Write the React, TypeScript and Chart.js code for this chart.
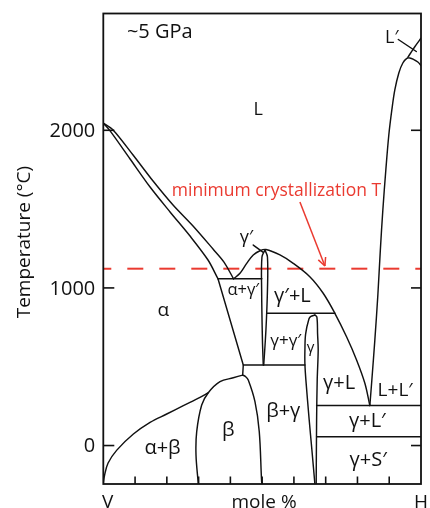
import React, { useEffect, useRef } from 'react';
import { Chart, registerables } from 'chart.js';

Chart.register(...registerables);

// ---------- axis data ----------
const xMin = 0;
const xMax = 100;
const yMin = -244;
const yMax = 2741;
const yTickValues = [0, 1000, 2000];
const yTickLabels = ['0', '1000', '2000'];
const xMinorTicks = [10, 20, 30, 40, 50, 60, 70, 80, 90];
const xAxisLabels = ['V', 'mole %', 'H'];
const xAxisLabelPos = [1.4, 50.6, 100];
const yAxisTitle = 'Temperature (°C)';
const yAxisTitleAt = 1291;

// ---------- phase boundaries (mole % H, °C) ----------
const liquidusV: [number, number][] = [
  [0, 2046], [3.08, 2002], [9.37, 1843], [15.66, 1678], [21.95, 1526],
  [28.24, 1393], [34.53, 1247], [37.99, 1164], [41.0, 1058],
];
const solidusAlpha: [number, number][] = [
  [0, 2045], [2.14, 1996], [8.43, 1818], [14.72, 1640], [21.01, 1482],
  [27.3, 1329], [32.96, 1177], [36.1, 1058],
];
const liquidusGammaPrime: [number, number][] = [
  [41.0, 1058], [43.02, 1093], [45.13, 1156], [47.2, 1209], [49.31, 1236],
  [51.19, 1244], [55.6, 1209], [59.78, 1156], [65.0, 1071], [69.21, 966],
  [72.89, 839], [76.57, 690], [79.72, 543], [82.33, 395], [83.9, 254],
];
const liquidusH: [number, number][] = [
  [83.9, 254], [84.53, 416], [85.47, 669], [86.42, 955], [87.2, 1240],
  [87.99, 1494], [88.93, 1748], [89.87, 1970], [90.82, 2129], [91.76, 2256],
  [93.02, 2364], [94.28, 2427], [95.53, 2456], [96.48, 2459], [97.74, 2449],
  [99.0, 2433], [100, 2411],
];
const lPrimeUpper: [number, number][] = [[95.85, 2463], [98.05, 2530], [100, 2584]];
const lPrimeLeader: [number, number][] = [[92.86, 2576], [98.52, 2500]];
const gammaPrimeLeader: [number, number][] = [[47.2, 1272], [50.35, 1226]];
const alphaGammaPrimeTop: [number, number][] = [[36.1, 1058], [49.9, 1058]];
const gammaPrimeLeft: [number, number][] = [
  [50.88, 1240], [49.94, 1196], [49.84, 987], [50.09, 669], [50.35, 511],
];
const gammaPrimeRight: [number, number][] = [
  [50.88, 1240], [51.67, 1196], [51.67, 987], [51.19, 733], [50.5, 511],
];
const alphaBoundary: [number, number][] = [[36.1, 1058], [44.06, 511], [43.87, 447]];
const eutectoidLine: [number, number][] = [[44.06, 511], [63.46, 511]];
const gammaPrimeLTop: [number, number][] = [[51.42, 839], [72.89, 839]];
const betaLeft: [number, number][] = [
  [43.87, 447], [40.91, 430], [36.73, 405], [33.05, 335], [30.97, 257],
  [29.4, 88], [29.18, -60], [29.91, -244],
];
const betaRight: [number, number][] = [
  [43.87, 447], [44.75, 438], [45.63, 416], [47.74, 278], [49.09, 88],
  [49.84, -230], [50.03, -244],
];
const alphaBetaTop: [number, number][] = [
  [0, -244], [0.41, -187], [1.51, -111], [4.25, -29], [9.47, 73],
  [14.72, 147], [19.97, 200], [25.19, 253], [30.44, 306], [33.05, 335],
];
const gammaLeft: [number, number][] = [
  [66.6, 828], [65.35, 819], [64.72, 803], [63.68, 707], [63.46, 606],
  [63.46, 517], [63.77, 415], [64.81, 162], [65.66, -28], [66.6, -244],
];
const gammaRight: [number, number][] = [
  [66.6, 828], [67.23, 815], [67.45, 707], [67.64, 606], [67.33, 415],
  [67.14, 162], [67.01, -244],
];
const lLPrimeLine: [number, number][] = [[67.14, 254], [100, 254]];
const gammaLPrimeLine: [number, number][] = [[67.14, 56], [100, 56]];

const minCrystT = 1122;
const arrowFrom: [number, number] = [61.89, 1545];
const arrowTo: [number, number] = [69.75, 1139];

// ---------- region labels ----------
const regionLabels = [
  '~5 GPa', 'L', 'L′', 'α', 'α+β', 'β', 'β+γ', 'γ+γ′', 'γ', 'γ′+L', 'α+γ′', 'γ′',
  'γ+L', 'L+L′', 'γ+L′', 'γ+S′',
];
const regionLabelX = [
  17.77, 48.77, 90.82, 18.9, 18.65, 39.34, 56.64, 57.42, 65.25, 59.53, 44.06, 45.06,
  74.21, 91.86, 83.11, 83.36,
];
const regionLabelY = [
  2584, 2097, 2552, 824, -54, 60, 179, 633, 593, 909, 955, 1285,
  358, 316, 115, -128,
];
const minCrystLabel = 'minimum crystallization T';
const minCrystLabelX = 54.5;
const minCrystLabelY = 1581;

// ---------- styles ----------
const FONT = "'Open Sans', 'DejaVu Sans', sans-serif";
const INK = '#111111';
const RED = '#ea3a30';
const labelSizes = [20, 18, 18, 19, 20, 20, 20, 17, 15, 20, 16.5, 18, 20, 19, 20, 20];

const toXY = (pts: [number, number][]) => pts.map(([x, y]) => ({ x, y }));

function boundary(pts: [number, number][], tension = 0.35) {
  return {
    data: toXY(pts),
    borderColor: INK,
    borderWidth: 1.45,
    pointRadius: 0,
    fill: false,
    tension,
    borderCapStyle: 'round' as const,
    borderJoinStyle: 'round' as const,
  };
}

const overlayPlugin = {
  id: 'phaseOverlay',
  afterDatasetsDraw(chart: any) {
    const { ctx, chartArea: a, scales } = chart;
    const sx = scales.x;
    const sy = scales.y;
    ctx.save();
    const seg = (x1: number, y1: number, x2: number, y2: number) => {
      ctx.beginPath();
      ctx.moveTo(x1, y1);
      ctx.lineTo(x2, y2);
      ctx.stroke();
    };
    // frame
    ctx.strokeStyle = INK;
    ctx.lineWidth = 1.8;
    ctx.strokeRect(a.left, a.top, a.right - a.left, a.bottom - a.top);
    // inward ticks
    ctx.lineWidth = 1.6;
    yTickValues.forEach((v) => {
      const py = sy.getPixelForValue(v);
      seg(a.left, py, a.left + 11, py);
      seg(a.right - 10, py, a.right, py);
    });
    xMinorTicks.forEach((v) => {
      const px = sx.getPixelForValue(v);
      seg(px, a.bottom, px, a.bottom - 7.5);
    });
    // y tick labels
    ctx.fillStyle = INK;
    ctx.textAlign = 'right';
    ctx.textBaseline = 'middle';
    ctx.font = `20px ${FONT}`;
    yTickValues.forEach((v, i) => {
      ctx.fillText(yTickLabels[i], a.left - 8, sy.getPixelForValue(v) + 1);
    });
    // arrow head
    const tx = sx.getPixelForValue(arrowTo[0]);
    const ty = sy.getPixelForValue(arrowTo[1]);
    const fx = sx.getPixelForValue(arrowFrom[0]);
    const fy = sy.getPixelForValue(arrowFrom[1]);
    const ang = Math.atan2(ty - fy, tx - fx);
    ctx.strokeStyle = RED;
    ctx.lineWidth = 1.5;
    const hl = 9;
    const spread = 0.45;
    seg(tx, ty, tx - hl * Math.cos(ang - spread), ty - hl * Math.sin(ang - spread));
    seg(tx, ty, tx - hl * Math.cos(ang + spread), ty - hl * Math.sin(ang + spread));
    // region labels
    ctx.textAlign = 'center';
    ctx.textBaseline = 'alphabetic';
    ctx.fillStyle = INK;
    regionLabels.forEach((t, i) => {
      ctx.font = `${labelSizes[i]}px ${FONT}`;
      ctx.fillText(t, sx.getPixelForValue(regionLabelX[i]), sy.getPixelForValue(regionLabelY[i]));
    });
    ctx.fillStyle = RED;
    ctx.font = `17.5px ${FONT}`;
    ctx.fillText(minCrystLabel, sx.getPixelForValue(minCrystLabelX), sy.getPixelForValue(minCrystLabelY));
    // x axis labels
    ctx.fillStyle = INK;
    ctx.font = `19px ${FONT}`;
    xAxisLabels.forEach((t, i) => {
      ctx.fillText(t, sx.getPixelForValue(xAxisLabelPos[i]), a.bottom + 23.5);
    });
    // y axis title
    ctx.save();
    ctx.translate(a.left - 79, sy.getPixelForValue(yAxisTitleAt));
    ctx.rotate(-Math.PI / 2);
    ctx.textBaseline = 'middle';
    ctx.font = `19px ${FONT}`;
    ctx.fillText(yAxisTitle, 0, 0);
    ctx.restore();
    ctx.restore();
  },
};

export default function App() {
  const canvasRef = useRef<HTMLCanvasElement | null>(null);

  useEffect(() => {
    document.body.style.margin = '0';
    const canvas = canvasRef.current;
    if (!canvas) return;
    const datasets: any[] = [
      boundary(liquidusV, 0.3),
      boundary(solidusAlpha, 0.3),
      boundary(liquidusGammaPrime, 0.35),
      boundary(liquidusH, 0.35),
      boundary(lPrimeUpper, 0.3),
      boundary(lPrimeLeader, 0),
      boundary(gammaPrimeLeader, 0),
      boundary(alphaGammaPrimeTop, 0),
      boundary(gammaPrimeLeft, 0.35),
      boundary(gammaPrimeRight, 0.35),
      boundary(alphaBoundary, 0),
      boundary(eutectoidLine, 0),
      boundary(gammaPrimeLTop, 0),
      boundary(betaLeft, 0.35),
      boundary(betaRight, 0.35),
      boundary(alphaBetaTop, 0.35),
      boundary(gammaLeft, 0.35),
      boundary(gammaRight, 0.35),
      boundary(lLPrimeLine, 0),
      boundary(gammaLPrimeLine, 0),
      {
        data: toXY([[xMin, minCrystT], [xMax, minCrystT]]),
        borderColor: RED,
        borderWidth: 2,
        borderDash: [16, 16],
        borderDashOffset: 8,
        pointRadius: 0,
        fill: false,
        tension: 0,
      },
      {
        data: toXY([arrowFrom, arrowTo]),
        borderColor: RED,
        borderWidth: 1.5,
        pointRadius: 0,
        fill: false,
        tension: 0,
      },
    ];
    const chart = new Chart(canvas, {
      type: 'line',
      data: { datasets },
      options: {
        animation: false,
        responsive: false,
        devicePixelRatio: 1,
        events: [],
        layout: { padding: { top: 13.5, right: 9, bottom: 24, left: 103.3 } },
        plugins: { legend: { display: false }, tooltip: { enabled: false } },
        scales: {
          x: { type: 'linear', min: xMin, max: xMax, display: false },
          y: { type: 'linear', min: yMin, max: yMax, display: false },
        },
      } as any,
      plugins: [overlayPlugin],
    });
    return () => chart.destroy();
  }, []);

  return (
    <div style={{ position: 'fixed', left: 0, top: 0, width: 430, height: 508, background: '#fff' }}>
      <canvas ref={canvasRef} width={430} height={508} style={{ display: 'block' }} />
    </div>
  );
}
